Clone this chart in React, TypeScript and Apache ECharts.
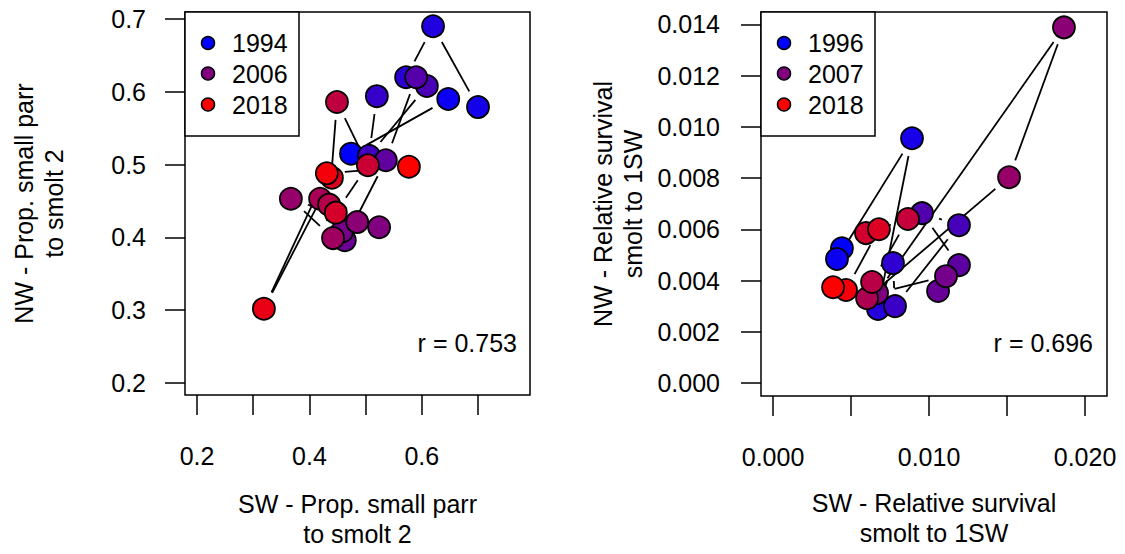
import { useEffect, useRef } from "react";
import * as echarts from "echarts";

const FONT = "'Liberation Sans', Arial, sans-serif";

// left panel: proportion of small parr to smolt 2 (SW vs NW), one point per year
const leftYears = [
  1994, 1995, 1996, 1997, 1998, 1999, 2000, 2001, 2002, 2003, 2004, 2005, 2006,
  2007, 2008, 2009, 2010, 2011, 2012, 2013, 2014, 2015, 2016, 2017, 2018,
];
const leftSW = [
  0.474, 0.647, 0.7, 0.62, 0.572, 0.52, 0.506, 0.609, 0.59, 0.536, 0.463, 0.458,
  0.524, 0.485, 0.367, 0.442, 0.419, 0.435, 0.449, 0.504, 0.447, 0.44, 0.319,
  0.431, 0.577,
];
const leftNW = [
  0.515, 0.59, 0.579, 0.69, 0.62, 0.594, 0.512, 0.608, 0.62, 0.506, 0.396, 0.408,
  0.414, 0.421, 0.453, 0.399, 0.453, 0.445, 0.586, 0.499, 0.434, 0.482, 0.302,
  0.488, 0.497,
];
const leftLegend = [1994, 2006, 2018];
const leftXTicks = [0.2, 0.3, 0.4, 0.5, 0.6, 0.7];
const leftXLabels = [0.2, 0.4, 0.6];
const leftYTicks = [0.2, 0.3, 0.4, 0.5, 0.6, 0.7];

// right panel: relative survival smolt to 1SW
const rightYears = [
  1996, 1997, 1998, 1999, 2000, 2001, 2002, 2003, 2004, 2005, 2006, 2007, 2008,
  2009, 2011, 2012, 2013, 2014, 2015, 2017, 2018,
];
const rightSW = [
  0.00442, 0.0041, 0.00891, 0.00673, 0.00769, 0.00782, 0.01192, 0.00955,
  0.01192, 0.01058, 0.01109, 0.00667, 0.01865, 0.01513, 0.00603, 0.00635,
  0.00865, 0.00596, 0.00679, 0.00468, 0.00385,
];
const rightNW = [
  0.00526, 0.00484, 0.00955, 0.00289, 0.00468, 0.003, 0.00616, 0.00663, 0.0046,
  0.00359, 0.00417, 0.00351, 0.01388, 0.00803, 0.00331, 0.00394, 0.0064,
  0.00585, 0.006, 0.00363, 0.00374,
];
const rightLegend = [1996, 2007, 2018];
const rightXTicks = [0, 0.005, 0.01, 0.015, 0.02];
const rightXLabels = [0, 0.01, 0.02];
const rightYTicks = [0, 0.002, 0.004, 0.006, 0.008, 0.01, 0.012, 0.014];

// blue -> red ramp over the years
const ramp = (year: number, first: number, last: number) => {
  const t = (year - first) / (last - first);
  return `rgb(${Math.round(255 * t)},0,${Math.round(255 * (1 - t))})`;
};

const GAP = 18;

// segment between consecutive years, shortened at both ends like R's type = "b"
const segRender = (params: any, api: any) => {
  const p1 = api.coord([api.value(0), api.value(1)]);
  const p2 = api.coord([api.value(2), api.value(3)]);
  const dx = p2[0] - p1[0];
  const dy = p2[1] - p1[1];
  const len = Math.hypot(dx, dy);
  if (len <= 2 * GAP) return null;
  const ux = dx / len;
  const uy = dy / len;
  return {
    type: "line",
    shape: {
      x1: p1[0] + ux * GAP,
      y1: p1[1] + uy * GAP,
      x2: p2[0] - ux * GAP,
      y2: p2[1] - uy * GAP,
    },
    style: { stroke: "#000", lineWidth: 1.8 },
  };
};

const segments = (xs: number[], ys: number[]) =>
  xs.slice(1).map((x, i) => [xs[i], ys[i], x, ys[i + 1]]);

const points = (xs: number[], ys: number[], years: number[]) =>
  xs.map((x, i) => [x, ys[i], years[i]]);

const baseAxis = {
  type: "value",
  axisLine: { show: false, onZero: false },
  splitLine: { show: false },
  nameLocation: "middle",
  nameMoveOverlap: false,
  nameTextStyle: { color: "#000", fontSize: 25, fontFamily: FONT, lineHeight: 30 },
};

const tick = (values: number[]) => ({
  show: true,
  length: 20,
  customValues: values,
  lineStyle: { color: "#000", width: 1.5 },
});

const label = (values: number[], margin: number, digits: number) => ({
  show: true,
  margin,
  customValues: values,
  color: "#000",
  fontSize: 25,
  fontFamily: FONT,
  formatter: (v: number) => Number(v).toFixed(digits),
});

const legendBox = (x: number, years: number[], first: number, last: number) => {
  const rows = [43, 73.5, 104.5];
  return [
    {
      type: "rect",
      shape: { x, y: 12, width: 114, height: 124 },
      style: { fill: "#fff", stroke: "#000", lineWidth: 1.5 },
      z: 10,
    },
    ...years.map((yr, i) => ({
      type: "circle",
      shape: { cx: x + 23, cy: rows[i], r: 6.5 },
      style: { fill: ramp(yr, first, last), stroke: "#000", lineWidth: 1.5 },
      z: 11,
    })),
    ...years.map((yr, i) => ({
      type: "text",
      x: x + 47,
      y: rows[i],
      style: {
        text: String(yr),
        font: `25px ${FONT}`,
        fill: "#000",
        textVerticalAlign: "middle",
      },
      z: 11,
    })),
  ];
};

export default function App() {
  const ref = useRef<HTMLDivElement>(null);

  useEffect(() => {
    if (!ref.current) return;
    const chart = echarts.init(ref.current, undefined, { renderer: "svg" });
    const lFirst = leftYears[0];
    const lLast = leftYears[leftYears.length - 1];
    const rFirst = rightYears[0];
    const rLast = rightYears[rightYears.length - 1];

    chart.setOption({
      animation: false,
      backgroundColor: "#fff",
      grid: [
        {
          left: 185,
          top: 12,
          width: 345,
          height: 383,
          show: true,
          borderColor: "#000",
          borderWidth: 1.5,
          backgroundColor: "transparent",
          outerBoundsMode: "none",
        },
        {
          left: 761,
          top: 12,
          width: 346,
          height: 384,
          show: true,
          borderColor: "#000",
          borderWidth: 1.5,
          backgroundColor: "transparent",
          outerBoundsMode: "none",
        },
      ],
      xAxis: [
        {
          ...baseAxis,
          gridIndex: 0,
          min: 0.1786,
          max: 0.7925,
          axisTick: tick(leftXTicks),
          axisLabel: label(leftXLabels, 48, 1),
          name: "SW - Prop. small parr\nto smolt 2",
          nameGap: 94,
        },
        {
          ...baseAxis,
          gridIndex: 1,
          min: -0.00077,
          max: 0.02141,
          axisTick: tick(rightXTicks),
          axisLabel: label(rightXLabels, 48, 3),
          name: "SW - Relative survival\nsmolt to 1SW",
          nameGap: 92,
        },
      ],
      yAxis: [
        {
          ...baseAxis,
          gridIndex: 0,
          min: 0.1835,
          max: 0.7096,
          axisTick: tick(leftYTicks),
          axisLabel: label(leftYTicks, 39, 1),
          name: "NW - Prop. small parr\nto smolt 2",
          nameGap: 116,
        },
        {
          ...baseAxis,
          gridIndex: 1,
          min: -0.000507,
          max: 0.01448,
          axisTick: tick(rightYTicks),
          axisLabel: label(rightYTicks, 41, 3),
          name: "NW - Relative survival\nsmolt to 1SW",
          nameGap: 113,
        },
      ],
      series: [
        {
          type: "custom",
          xAxisIndex: 0,
          yAxisIndex: 0,
          renderItem: segRender,
          encode: { x: [0, 2], y: [1, 3] },
          data: segments(leftSW, leftNW),
          z: 2,
          silent: true,
        },
        {
          type: "scatter",
          xAxisIndex: 0,
          yAxisIndex: 0,
          symbolSize: 22,
          data: points(leftSW, leftNW, leftYears),
          itemStyle: {
            color: (p: any) => ramp(p.value[2], lFirst, lLast),
            borderColor: "#000",
            borderWidth: 1.8,
            opacity: 1,
          },
          z: 3,
          silent: true,
        },
        {
          type: "custom",
          xAxisIndex: 1,
          yAxisIndex: 1,
          renderItem: segRender,
          encode: { x: [0, 2], y: [1, 3] },
          data: segments(rightSW, rightNW),
          z: 2,
          silent: true,
        },
        {
          type: "scatter",
          xAxisIndex: 1,
          yAxisIndex: 1,
          symbolSize: 22,
          data: points(rightSW, rightNW, rightYears),
          itemStyle: {
            color: (p: any) => ramp(p.value[2], rFirst, rLast),
            borderColor: "#000",
            borderWidth: 1.8,
            opacity: 1,
          },
          z: 3,
          silent: true,
        },
      ],
      graphic: [
        ...legendBox(185, leftLegend, lFirst, lLast),
        ...legendBox(761, rightLegend, rFirst, rLast),
        {
          type: "text",
          x: 517,
          y: 343,
          style: {
            text: "r = 0.753",
            font: `25px ${FONT}`,
            fill: "#000",
            textAlign: "right",
            textVerticalAlign: "middle",
          },
        },
        {
          type: "text",
          x: 1093,
          y: 343,
          style: {
            text: "r = 0.696",
            font: `25px ${FONT}`,
            fill: "#000",
            textAlign: "right",
            textVerticalAlign: "middle",
          },
        },
      ],
    });

    return () => chart.dispose();
  }, []);

  return (
    <div
      ref={ref}
      style={{ position: "absolute", left: 0, top: 0, width: 1125, height: 554 }}
    />
  );
}
